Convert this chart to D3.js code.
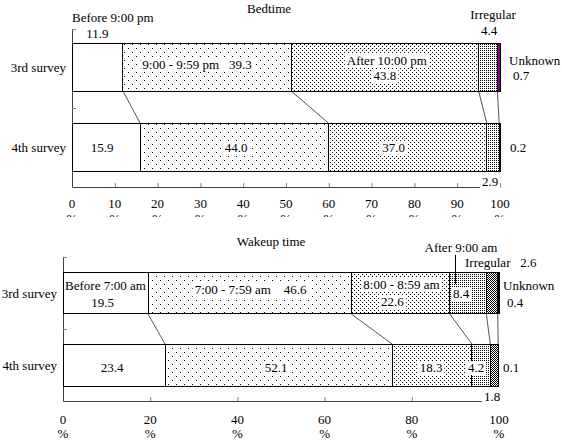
<!DOCTYPE html>
<html>
<head>
<meta charset="utf-8">
<script src="https://cdn.jsdelivr.net/npm/d3@7"></script>
<style>
body{margin:0;background:#fff;}
svg text{font-family:"Liberation Serif","Times New Roman",serif;font-size:13px;fill:#000;}
</style>
</head>
<body>
<svg id="chart" width="562" height="441"></svg>
<script>
// ---------- data ----------
const surveys = ["3rd survey", "4th survey"];

const bedTitle = "Bedtime";
const bedCats = ["Before 9:00 pm", "9:00 - 9:59 pm", "After 10:00 pm", "Irregular", "Unknown"];
const bed3 = [11.9, 39.3, 43.8, 4.4, 0.7];
const bed4 = [15.9, 44.0, 37.0, 2.9, 0.2];
const bedTicks = [0, 10, 20, 30, 40, 50, 60, 70, 80, 90, 100];

const wakeTitle = "Wakeup time";
const wakeCats = ["Before 7:00 am", "7:00 - 7:59 am", "8:00 - 8:59 am", "After 9:00 am", "Irregular", "Unknown"];
const wake3 = [19.5, 46.6, 22.6, 8.4, 2.6, 0.4];
const wake4 = [23.4, 52.1, 18.3, 4.2, 1.8, 0.1];
const wakeTicks = [0, 20, 40, 60, 80, 100];

// ---------- setup ----------
const svg = d3.select("#chart");
const defs = svg.append("defs");
const fmt = d3.format(".1f");

function dotPattern(id, w, h, dots, bg) {
  const p = defs.append("pattern").attr("id", id).attr("patternUnits", "userSpaceOnUse")
    .attr("width", w).attr("height", h);
  p.append("rect").attr("width", w).attr("height", h).attr("fill", bg || "#fff");
  dots.forEach(d => p.append("rect").attr("x", d[0]).attr("y", d[1]).attr("width", 1).attr("height", 1).attr("fill", "#000"));
}
dotPattern("sparse", 8, 8, [[0, 0], [4, 4]]);
dotPattern("medium", 4, 4, [[0, 0], [2, 2]]);
dotPattern("dense", 2, 2, [[0, 0]]);
dotPattern("vdense", 2, 2, [[0, 0], [1, 1]]);

defs.append("clipPath").attr("id", "topclip").append("rect")
  .attr("x", 0).attr("y", 0).attr("width", 562).attr("height", 217);

function cum(arr) { let s = 0; return arr.map(v => { const a = s; s += v; return [a, s]; }); }

function panel(cfg) {
  const g = svg.append("g");
  const x = d3.scaleLinear().domain([0, 100]).range(cfg.xr);
  const y = d3.scaleBand().domain(surveys).range(cfg.yr).paddingInner(cfg.pad);
  const rows = [cfg.v3, cfg.v4];

  // title
  g.append("text").attr("x", cfg.titleX).attr("y", cfg.titleY).attr("text-anchor", "middle").text(cfg.title);

  // x axis
  const xa = d3.axisBottom(x).tickValues(cfg.ticks).tickSizeInner(-4).tickSizeOuter(0).tickFormat("");
  const xg = g.append("g").attr("transform", `translate(0,${cfg.axisY})`).call(xa);
  xg.select(".domain").attr("stroke", "#404040");
  xg.selectAll(".tick line").attr("stroke", "#808080");

  // y axis
  const yl = d3.scaleLinear().domain([0, 2]).range([cfg.axisY, cfg.yTop]);
  const ya = d3.axisLeft(yl).tickValues([1, 2]).tickSizeInner(-4).tickSizeOuter(0).tickFormat("");
  const yg = g.append("g").attr("transform", `translate(${cfg.xr[0]},0)`).call(ya);
  yg.select(".domain").attr("stroke", "#404040");
  yg.selectAll(".tick line").attr("stroke", "#808080");

  // tick labels
  const tl = g.append("g").attr("clip-path", cfg.clip ? "url(#topclip)" : null);
  cfg.ticks.forEach(t => {
    tl.append("text").attr("x", x(t)).attr("y", cfg.tickLabY).attr("text-anchor", "middle").text(t);
    tl.append("text").attr("x", x(t)).attr("y", cfg.tickLabY + cfg.pctDy).attr("text-anchor", "middle").text("%");
  });

  // survey labels
  surveys.forEach(s => {
    g.append("text").attr("x", cfg.xr[0] - 6).attr("y", y(s) + y.bandwidth() / 2 + 5)
      .attr("text-anchor", "end").text(s);
  });

  // connectors
  const c3 = cum(cfg.v3), c4 = cum(cfg.v4);
  for (let i = 0; i < c3.length - 1; i++) {
    g.append("line")
      .attr("x1", x(c3[i][1])).attr("y1", y(surveys[0]) + y.bandwidth())
      .attr("x2", x(c4[i][1])).attr("y2", y(surveys[1]))
      .attr("stroke", "#555").attr("stroke-width", 1);
  }

  // bars
  rows.forEach((vals, r) => {
    const cs = cum(vals);
    g.selectAll(null).data(cs).enter().append("rect")
      .attr("x", d => x(d[0])).attr("y", y(surveys[r]))
      .attr("width", d => x(d[1]) - x(d[0])).attr("height", y.bandwidth())
      .attr("fill", (d, i) => cfg.fills[r][i])
      .attr("stroke", "#000").attr("stroke-width", 1).attr("shape-rendering", "crispEdges");
  });

  // leader lines
  (cfg.leaders || []).forEach(l => {
    g.append("line").attr("x1", l[0]).attr("y1", l[1]).attr("x2", l[0]).attr("y2", l[2])
      .attr("stroke", "#000").attr("shape-rendering", "crispEdges");
  });

  // labels
  cfg.labels.forEach(L => {
    const t = g.append("text").attr("x", L.x).attr("y", L.y)
      .attr("text-anchor", L.a || "middle").attr("xml:space", "preserve").text(L.t);
    if (L.bg) {
      const b = t.node().getBBox();
      g.insert("rect", () => t.node())
        .attr("x", b.x - 2).attr("y", b.y + 1).attr("width", b.width + 4).attr("height", b.height - 1)
        .attr("fill", "#fff");
    }
  });
  return { x, y };
}

// ---------- Bedtime ----------
{
  const xr = [72, 500];
  const x = d3.scaleLinear().domain([0, 100]).range(xr);
  const c3 = cum(bed3), c4 = cum(bed4);
  const mid = (c) => x((c[0] + c[1]) / 2);
  panel({
    title: bedTitle, titleX: 269, titleY: 13,
    xr, yr: [43, 171], pad: 0.4, axisY: 187, yTop: 29, tickLabY: 208, pctDy: 15, clip: true,
    ticks: bedTicks, v3: bed3, v4: bed4,
    fills: [["#fff", "url(#sparse)", "url(#medium)", "url(#dense)", "#800080"],
            ["#fff", "url(#sparse)", "url(#medium)", "url(#dense)", "#800080"]],
    labels: [
      { t: bedCats[0], x: 72, y: 22, a: "start" },
      { t: fmt(bed3[0]), x: mid(c3[0]), y: 38 },
      { t: bedCats[1] + "   " + fmt(bed3[1]), x: mid(c3[1]) - 10, y: 69, bg: true },
      { t: bedCats[2], x: mid(c3[2]) + 2, y: 65, bg: true },
      { t: fmt(bed3[2]), x: mid(c3[2]), y: 80, bg: true },
      { t: bedCats[3], x: 493, y: 19 },
      { t: fmt(bed3[3]), x: 489, y: 35 },
      { t: bedCats[4], x: 509, y: 65, a: "start" },
      { t: fmt(bed3[4]), x: 513, y: 80, a: "start" },
      { t: fmt(bed4[0]), x: mid(c4[0]) - 4, y: 152, bg: true },
      { t: fmt(bed4[1]), x: mid(c4[1]) + 2, y: 152, bg: true },
      { t: fmt(bed4[2]), x: mid(c4[2]) - 14, y: 152, bg: true },
      { t: fmt(bed4[3]), x: 490, y: 186, bg: true },
      { t: fmt(bed4[4]), x: 510, y: 152, a: "start" }
    ]
  });
}

// ---------- Wakeup time ----------
{
  const xr = [63, 499];
  const x = d3.scaleLinear().domain([0, 100]).range(xr);
  const c3 = cum(wake3), c4 = cum(wake4);
  const mid = (c) => x((c[0] + c[1]) / 2);
  panel({
    title: wakeTitle, titleX: 271, titleY: 246,
    xr, yr: [272, 386], pad: 0.4167, axisY: 401, yTop: 257, tickLabY: 424, pctDy: 14, clip: false,
    ticks: wakeTicks, v3: wake3, v4: wake4,
    fills: [["#fff", "url(#sparse)", "url(#medium)", "url(#dense)", "url(#vdense)", "#000"],
            ["#fff", "url(#sparse)", "url(#medium)", "url(#dense)", "url(#vdense)", "#000"]],
    leaders: [[455, 255, 284]],
    labels: [
      { t: wakeCats[0], x: mid(c3[0]), y: 290 },
      { t: fmt(wake3[0]), x: mid(c3[0]) - 3, y: 307 },
      { t: wakeCats[1] + "    " + fmt(wake3[1]), x: mid(c3[1]) + 1, y: 294, bg: true },
      { t: wakeCats[2], x: mid(c3[2]) + 1, y: 289, bg: true },
      { t: fmt(wake3[2]), x: mid(c3[2]) - 8, y: 306, bg: true },
      { t: fmt(wake3[3]), x: 461, y: 298, bg: true },
      { t: wakeCats[3], x: 461, y: 252 },
      { t: wakeCats[4] + "   " + fmt(wake3[4]), x: 465, y: 267, a: "start" },
      { t: wakeCats[5], x: 503, y: 290, a: "start" },
      { t: fmt(wake3[5]), x: 507, y: 307, a: "start" },
      { t: fmt(wake4[0]), x: mid(c4[0]) - 2, y: 372, bg: true },
      { t: fmt(wake4[1]), x: 276, y: 372, bg: true },
      { t: fmt(wake4[2]), x: 431, y: 372, bg: true },
      { t: fmt(wake4[3]), x: 476, y: 372, bg: true },
      { t: fmt(wake4[4]), x: 492, y: 401, bg: true },
      { t: fmt(wake4[5]), x: 503, y: 372, a: "start" }
    ]
  });
}
</script>
</body>
</html>
